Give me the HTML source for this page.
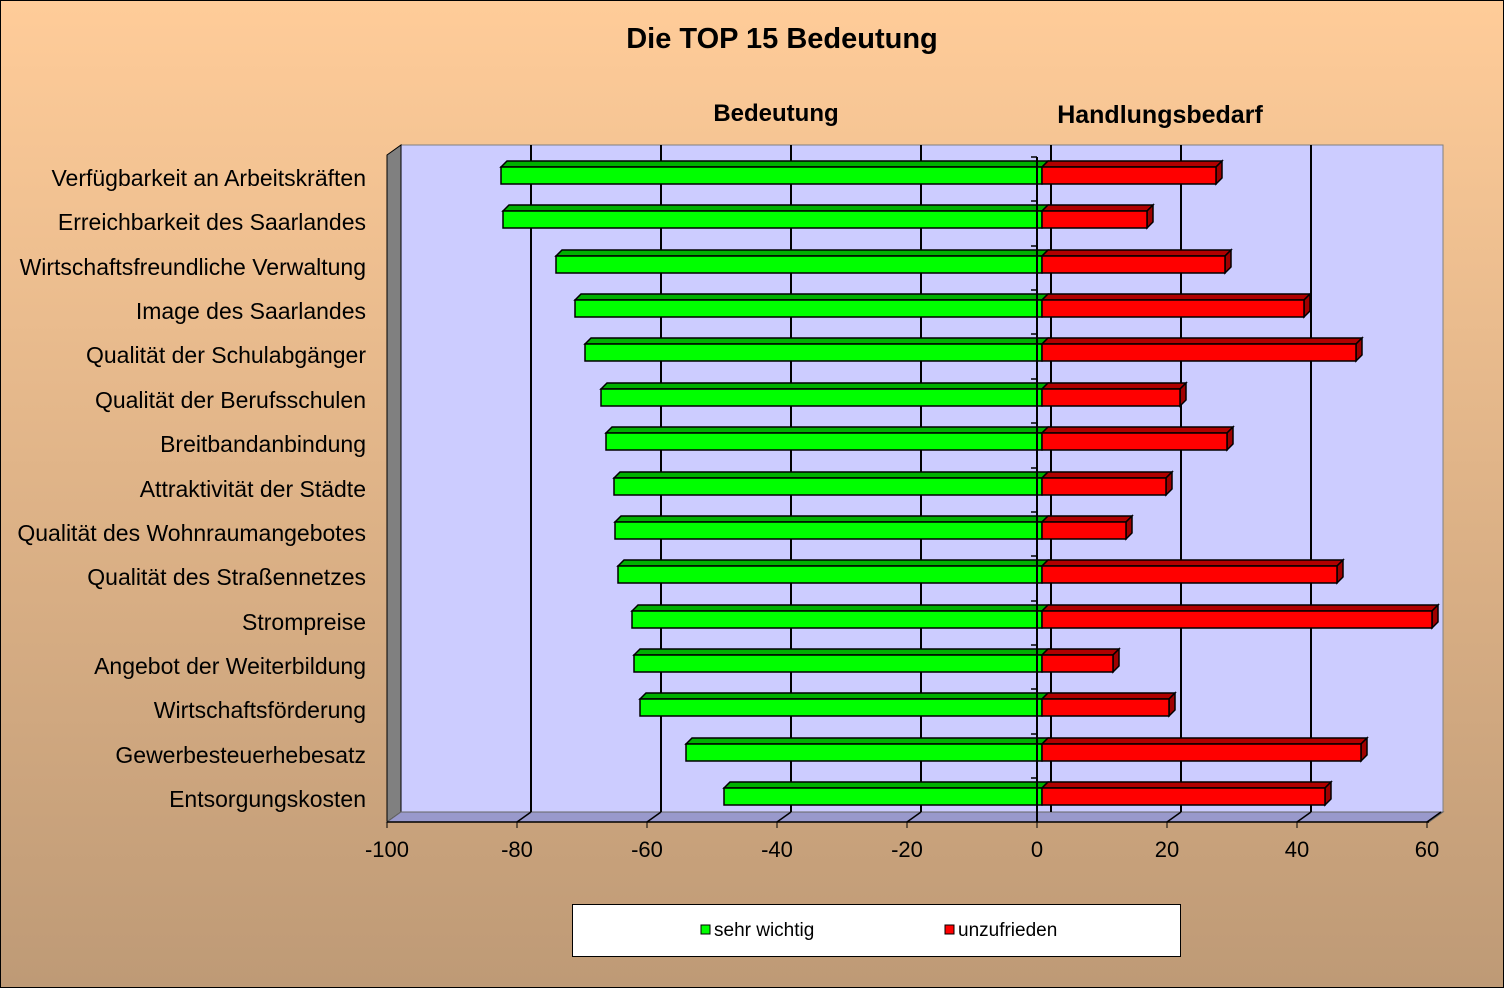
<!DOCTYPE html><html><head><meta charset="utf-8"><style>body{margin:0}svg{display:block}</style></head><body>
<svg width="1504" height="988" xmlns="http://www.w3.org/2000/svg" font-family="Liberation Sans, sans-serif">
<defs><linearGradient id="bg" x1="0" y1="0" x2="0" y2="1"><stop offset="0" stop-color="#FFCC99"/><stop offset="1" stop-color="#BE9A76"/></linearGradient></defs>
<rect x="0.5" y="0.5" width="1503" height="987" fill="url(#bg)" stroke="#000"/>
<text x="782" y="48" font-size="29" font-weight="bold" text-anchor="middle">Die TOP 15 Bedeutung</text>
<text x="776" y="121" font-size="24" font-weight="bold" text-anchor="middle">Bedeutung</text>
<text x="1160" y="123" font-size="25" font-weight="bold" text-anchor="middle">Handlungsbedarf</text>
<rect x="401" y="145" width="1042" height="667" fill="#CCCCFF" stroke="#808080"/>
<polygon points="387,155 401,145 401,812 387,822" fill="#808080" stroke="#000"/>
<polygon points="387,822 401,812 1443,812 1429,822" fill="#9999CC" stroke="#666"/>
<g stroke="#000" stroke-width="2">
<line x1="531" y1="145" x2="531" y2="812"/><line x1="661" y1="145" x2="661" y2="812"/><line x1="791" y1="145" x2="791" y2="812"/><line x1="921" y1="145" x2="921" y2="812"/><line x1="1051" y1="145" x2="1051" y2="812"/><line x1="1181" y1="145" x2="1181" y2="812"/><line x1="1311" y1="145" x2="1311" y2="812"/>
</g>
<g stroke="#000" stroke-width="1.5">
<line x1="517" y1="822" x2="531" y2="812"/><line x1="647" y1="822" x2="661" y2="812"/><line x1="777" y1="822" x2="791" y2="812"/><line x1="907" y1="822" x2="921" y2="812"/><line x1="1167" y1="822" x2="1181" y2="812"/><line x1="1297" y1="822" x2="1311" y2="812"/><line x1="1427" y1="822" x2="1441" y2="812"/>
<line x1="387" y1="822" x2="1429" y2="822"/>
</g>
<g stroke="#000" stroke-width="1"><line x1="387" y1="822" x2="387" y2="828"/><line x1="517" y1="822" x2="517" y2="828"/><line x1="647" y1="822" x2="647" y2="828"/><line x1="777" y1="822" x2="777" y2="828"/><line x1="907" y1="822" x2="907" y2="828"/><line x1="1037" y1="822" x2="1037" y2="828"/><line x1="1167" y1="822" x2="1167" y2="828"/><line x1="1297" y1="822" x2="1297" y2="828"/><line x1="1427" y1="822" x2="1427" y2="828"/></g>
<g font-size="22" text-anchor="middle"><text x="387" y="857">-100</text><text x="517" y="857">-80</text><text x="647" y="857">-60</text><text x="777" y="857">-40</text><text x="907" y="857">-20</text><text x="1037" y="857">0</text><text x="1167" y="857">20</text><text x="1297" y="857">40</text><text x="1427" y="857">60</text></g>
<g stroke="#000" stroke-width="1.5">
<polygon points="501,167 507,161 1048,161 1042,167" fill="#00B000"/><rect x="501" y="167" width="541" height="17" fill="#00FF00"/><polygon points="1042,167 1048,161 1222,161 1216,167" fill="#B00000"/><polygon points="1216,167 1222,161 1222,178 1216,184" fill="#A00000"/><rect x="1042" y="167" width="174" height="17" fill="#FF0000"/>
<polygon points="503,211 509,205 1048,205 1042,211" fill="#00B000"/><rect x="503" y="211" width="539" height="17" fill="#00FF00"/><polygon points="1042,211 1048,205 1153,205 1147,211" fill="#B00000"/><polygon points="1147,211 1153,205 1153,222 1147,228" fill="#A00000"/><rect x="1042" y="211" width="105" height="17" fill="#FF0000"/>
<polygon points="556,256 562,250 1048,250 1042,256" fill="#00B000"/><rect x="556" y="256" width="486" height="17" fill="#00FF00"/><polygon points="1042,256 1048,250 1231,250 1225,256" fill="#B00000"/><polygon points="1225,256 1231,250 1231,267 1225,273" fill="#A00000"/><rect x="1042" y="256" width="183" height="17" fill="#FF0000"/>
<polygon points="575,300 581,294 1048,294 1042,300" fill="#00B000"/><rect x="575" y="300" width="467" height="17" fill="#00FF00"/><polygon points="1042,300 1048,294 1310,294 1304,300" fill="#B00000"/><polygon points="1304,300 1310,294 1310,311 1304,317" fill="#A00000"/><rect x="1042" y="300" width="262" height="17" fill="#FF0000"/>
<polygon points="585,344 591,338 1048,338 1042,344" fill="#00B000"/><rect x="585" y="344" width="457" height="17" fill="#00FF00"/><polygon points="1042,344 1048,338 1362,338 1356,344" fill="#B00000"/><polygon points="1356,344 1362,338 1362,355 1356,361" fill="#A00000"/><rect x="1042" y="344" width="314" height="17" fill="#FF0000"/>
<polygon points="601,389 607,383 1048,383 1042,389" fill="#00B000"/><rect x="601" y="389" width="441" height="17" fill="#00FF00"/><polygon points="1042,389 1048,383 1186,383 1180,389" fill="#B00000"/><polygon points="1180,389 1186,383 1186,400 1180,406" fill="#A00000"/><rect x="1042" y="389" width="138" height="17" fill="#FF0000"/>
<polygon points="606,433 612,427 1048,427 1042,433" fill="#00B000"/><rect x="606" y="433" width="436" height="17" fill="#00FF00"/><polygon points="1042,433 1048,427 1233,427 1227,433" fill="#B00000"/><polygon points="1227,433 1233,427 1233,444 1227,450" fill="#A00000"/><rect x="1042" y="433" width="185" height="17" fill="#FF0000"/>
<polygon points="614,478 620,472 1048,472 1042,478" fill="#00B000"/><rect x="614" y="478" width="428" height="17" fill="#00FF00"/><polygon points="1042,478 1048,472 1172,472 1166,478" fill="#B00000"/><polygon points="1166,478 1172,472 1172,489 1166,495" fill="#A00000"/><rect x="1042" y="478" width="124" height="17" fill="#FF0000"/>
<polygon points="615,522 621,516 1048,516 1042,522" fill="#00B000"/><rect x="615" y="522" width="427" height="17" fill="#00FF00"/><polygon points="1042,522 1048,516 1132,516 1126,522" fill="#B00000"/><polygon points="1126,522 1132,516 1132,533 1126,539" fill="#A00000"/><rect x="1042" y="522" width="84" height="17" fill="#FF0000"/>
<polygon points="618,566 624,560 1048,560 1042,566" fill="#00B000"/><rect x="618" y="566" width="424" height="17" fill="#00FF00"/><polygon points="1042,566 1048,560 1343,560 1337,566" fill="#B00000"/><polygon points="1337,566 1343,560 1343,577 1337,583" fill="#A00000"/><rect x="1042" y="566" width="295" height="17" fill="#FF0000"/>
<polygon points="632,611 638,605 1048,605 1042,611" fill="#00B000"/><rect x="632" y="611" width="410" height="17" fill="#00FF00"/><polygon points="1042,611 1048,605 1438,605 1432,611" fill="#B00000"/><polygon points="1432,611 1438,605 1438,622 1432,628" fill="#A00000"/><rect x="1042" y="611" width="390" height="17" fill="#FF0000"/>
<polygon points="634,655 640,649 1048,649 1042,655" fill="#00B000"/><rect x="634" y="655" width="408" height="17" fill="#00FF00"/><polygon points="1042,655 1048,649 1119,649 1113,655" fill="#B00000"/><polygon points="1113,655 1119,649 1119,666 1113,672" fill="#A00000"/><rect x="1042" y="655" width="71" height="17" fill="#FF0000"/>
<polygon points="640,699 646,693 1048,693 1042,699" fill="#00B000"/><rect x="640" y="699" width="402" height="17" fill="#00FF00"/><polygon points="1042,699 1048,693 1175,693 1169,699" fill="#B00000"/><polygon points="1169,699 1175,693 1175,710 1169,716" fill="#A00000"/><rect x="1042" y="699" width="127" height="17" fill="#FF0000"/>
<polygon points="686,744 692,738 1048,738 1042,744" fill="#00B000"/><rect x="686" y="744" width="356" height="17" fill="#00FF00"/><polygon points="1042,744 1048,738 1367,738 1361,744" fill="#B00000"/><polygon points="1361,744 1367,738 1367,755 1361,761" fill="#A00000"/><rect x="1042" y="744" width="319" height="17" fill="#FF0000"/>
<polygon points="724,788 730,782 1048,782 1042,788" fill="#00B000"/><rect x="724" y="788" width="318" height="17" fill="#00FF00"/><polygon points="1042,788 1048,782 1331,782 1325,788" fill="#B00000"/><polygon points="1325,788 1331,782 1331,799 1325,805" fill="#A00000"/><rect x="1042" y="788" width="283" height="17" fill="#FF0000"/>
</g>
<g font-size="23" text-anchor="end">
<text x="366" y="186">Verfügbarkeit an Arbeitskräften</text>
<text x="366" y="230">Erreichbarkeit des Saarlandes</text>
<text x="366" y="275">Wirtschaftsfreundliche Verwaltung</text>
<text x="366" y="319">Image des Saarlandes</text>
<text x="366" y="363">Qualität der Schulabgänger</text>
<text x="366" y="408">Qualität der Berufsschulen</text>
<text x="366" y="452">Breitbandanbindung</text>
<text x="366" y="497">Attraktivität der Städte</text>
<text x="366" y="541">Qualität des Wohnraumangebotes</text>
<text x="366" y="585">Qualität des Straßennetzes</text>
<text x="366" y="630">Strompreise</text>
<text x="366" y="674">Angebot der Weiterbildung</text>
<text x="366" y="718">Wirtschaftsförderung</text>
<text x="366" y="763">Gewerbesteuerhebesatz</text>
<text x="366" y="807">Entsorgungskosten</text>
</g>
<line x1="1037" y1="157" x2="1037" y2="822" stroke="#000" stroke-width="2"/>
<g stroke="#000" stroke-width="1.5">
<line x1="1031" y1="157" x2="1037" y2="157"/><line x1="1031" y1="201" x2="1037" y2="201"/><line x1="1031" y1="246" x2="1037" y2="246"/><line x1="1031" y1="290" x2="1037" y2="290"/><line x1="1031" y1="334" x2="1037" y2="334"/><line x1="1031" y1="379" x2="1037" y2="379"/><line x1="1031" y1="423" x2="1037" y2="423"/><line x1="1031" y1="468" x2="1037" y2="468"/><line x1="1031" y1="512" x2="1037" y2="512"/><line x1="1031" y1="556" x2="1037" y2="556"/><line x1="1031" y1="601" x2="1037" y2="601"/><line x1="1031" y1="645" x2="1037" y2="645"/><line x1="1031" y1="689" x2="1037" y2="689"/><line x1="1031" y1="734" x2="1037" y2="734"/><line x1="1031" y1="778" x2="1037" y2="778"/>
</g>
<rect x="572.5" y="904.5" width="608" height="52" fill="#fff" stroke="#000"/>
<rect x="701" y="925" width="9" height="9" fill="#00FF00" stroke="#000"/>
<text x="714" y="936" font-size="19">sehr wichtig</text>
<rect x="945" y="925" width="9" height="9" fill="#FF0000" stroke="#000"/>
<text x="958" y="936" font-size="19">unzufrieden</text>
</svg></body></html>
